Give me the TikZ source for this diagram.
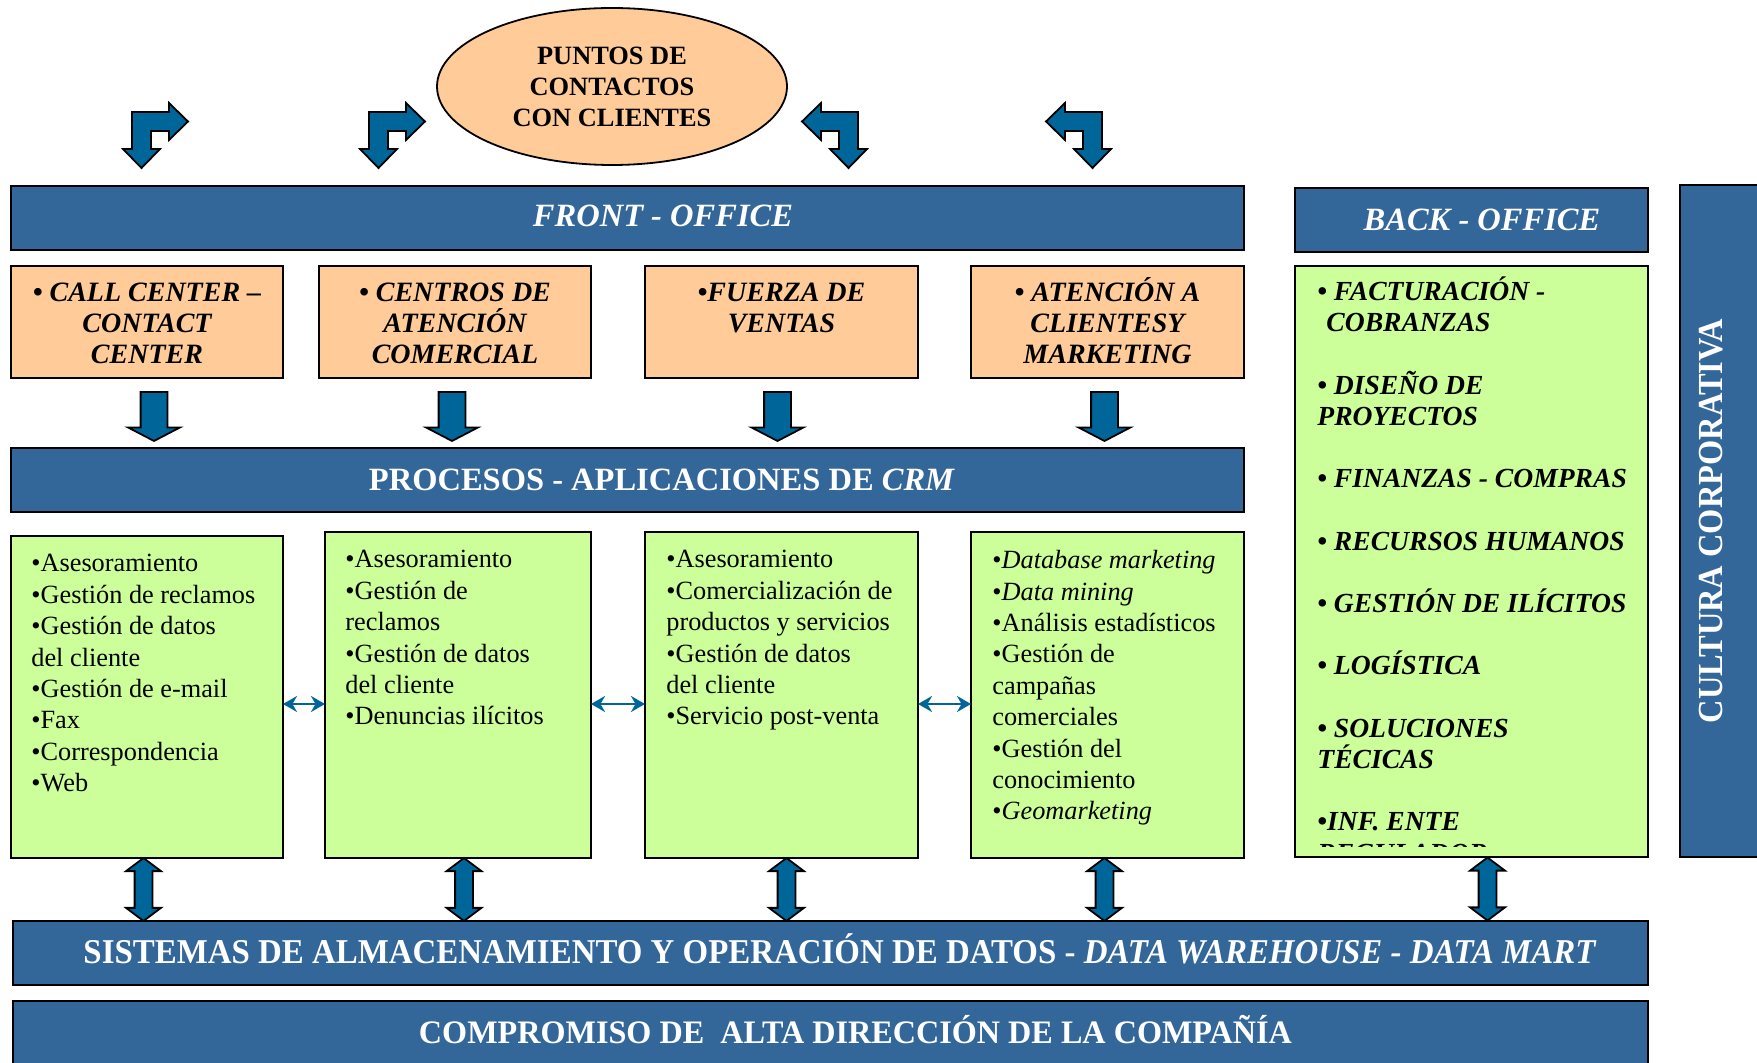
\documentclass[tikz,border=0pt]{standalone}
\usepackage{fontspec}
\setmainfont{Liberation Serif}
\usepackage{graphicx}
\usetikzlibrary{shapes.geometric,shapes.arrows,arrows.meta}
\definecolor{barblue}{RGB}{51,102,153}
\definecolor{arrowblue}{RGB}{0,102,153}
\definecolor{peach}{RGB}{255,204,153}
\definecolor{lime}{RGB}{204,255,153}
\tikzset{
    bar/.style={draw=black,line width=1.2pt,fill=barblue,inner sep=0pt,outer sep=0pt},
    peachbox/.style={draw=black,line width=0.9pt,fill=peach,inner sep=0pt,outer sep=0pt},
    limebox/.style={draw=black,line width=0.9pt,fill=lime,inner sep=0pt,outer sep=0pt},
    bartext/.style={text=white,inner sep=0pt,font=\fontsize{16.25}{19}\selectfont\bfseries},
    boxtext/.style={inner sep=0pt,align=center,font=\fontsize{14}{15.5}\selectfont\bfseries\itshape},
    listtext/.style={inner sep=0pt,align=left,font=\fontsize{13.15}{15.7}\selectfont},
    backtext/.style={inner sep=0pt,align=left,font=\fontsize{13.8}{15.6}\selectfont\bfseries\itshape},
    dnarrow/.style={single arrow,draw=black,line width=0.9pt,fill=arrowblue,rotate=-90,
        minimum height=24.5pt,minimum width=25pt,single arrow head extend=6.25pt,
        single arrow tip angle=125,inner xsep=0pt,inner ysep=6.25pt},
    dblarrow/.style={double arrow,draw=black,line width=0.9pt,fill=arrowblue,rotate=90,
        minimum height=31.5pt,minimum width=16.5pt,double arrow head extend=4.25pt,
        double arrow tip angle=106,inner xsep=0pt,inner ysep=4pt},
    bendarr/.style={draw=black,line width=0.9pt,fill=arrowblue},
    linkarrow/.style={{Stealth[length=7pt,width=8pt]}-{Stealth[length=7pt,width=8pt]},draw=arrowblue,line width=1.3pt}
}
\newcommand{\blk}[6]{
    \node[#2,anchor=north west,minimum width={(#5-#3)*0.5pt},minimum height={(#6-#4)*0.5pt}] (#1) at (#3,#4) {};
}
\newcommand{\bentarrow}[3]{
    \begin{scope}[shift={(#1,#2)},xscale=#3]
        \draw[bendarr] (0,0) -- (37,0) -- (37,-9) -- (56,9.5) -- (37,28) -- (37,19) -- (19,19)
            -- (19,37) -- (28,37) -- (9.5,56) -- (-9,37) -- (0,37) -- cycle;
    \end{scope}
}
\begin{document}
\begin{tikzpicture}[x={(0.5pt,0pt)},y={(0pt,-0.5pt)}]
    \useasboundingbox (0,0) rectangle (1757,1063);
    \clip (0,0) rectangle (1757,1063);
    \node[ellipse,draw=black,line width=0.9pt,fill=peach,minimum width=175pt,minimum height=78.5pt,
        inner sep=0pt,align=center,font=\fontsize{13.2}{15.5}\selectfont\bfseries] (pts) at (612,86.5)
        {PUNTOS DE\\CONTACTOS\\CON CLIENTES};
    \bentarrow{132}{112}{1}
    \bentarrow{369}{112}{1}
    \bentarrow{858}{112}{-1}
    \bentarrow{1102}{112}{-1}

    \blk{front}{bar}{11}{186}{1244}{250}
    \blk{back}{bar}{1295}{188}{1648}{252}
    \blk{cultura}{bar}{1680}{185}{1775}{857}
    \blk{crm}{bar}{11}{448}{1244}{512}
    \blk{dw}{bar}{13}{921}{1648}{985}
    \blk{alta}{bar}{13}{1001}{1648}{1075}
    \node[bartext] (fronttxt) at (663,216) {\itshape FRONT - OFFICE};
    \node[bartext] (backtxt) at (1482,219.6) {\itshape BACK - OFFICE};
    \node[bartext] (crmtxt) at (662,479.6) {PROCESOS - APLICACIONES DE \textit{CRM}};
    \node[bartext,anchor=base,font=\fontsize{17.4}{20}\selectfont\bfseries] (dwtxt) at (840,963.6)
        {\resizebox{756.5pt}{\height}{SISTEMAS DE ALMACENAMIENTO Y OPERACIÓN DE DATOS - \textit{DATA WAREHOUSE - DATA MART}}};
    \node[bartext,anchor=base,font=\fontsize{16.4}{20}\selectfont\bfseries] (altatxt) at (855.5,1043)
        {\resizebox{436.5pt}{\height}{COMPROMISO DE\ \ ALTA DIRECCIÓN DE LA COMPAÑÍA}};
    \node[bartext,rotate=90,font=\fontsize{17.6}{20}\selectfont\bfseries] (culttxt) at (1711,521)
        {\resizebox{202pt}{\height}{CULTURA CORPORATIVA}};

    \blk{ccc}{peachbox}{11}{266}{283}{378}
    \blk{cac}{peachbox}{319}{266}{591}{378}
    \blk{fv}{peachbox}{645}{266}{918}{378}
    \blk{acm}{peachbox}{971}{266}{1244}{378}
    \node[boxtext,anchor=north] (ccctxt) at ([yshift=-8.5pt]ccc.north) {• CALL CENTER –\\CONTACT\\CENTER};
    \node[boxtext,anchor=north] (cactxt) at ([yshift=-8.5pt]cac.north) {• CENTROS DE\\ATENCIÓN\\COMERCIAL};
    \node[boxtext,anchor=north] (fvtxt) at ([yshift=-8.5pt]fv.north) {•FUERZA DE\\VENTAS};
    \node[boxtext,anchor=north] (acmtxt) at ([yshift=-5.5pt]acm.north) {• ATENCIÓN A\\CLIENTESY\\MARKETING};

    \blk{g1}{limebox}{11}{536}{283}{858}
    \blk{g2}{limebox}{325}{532}{591}{858}
    \blk{g3}{limebox}{645}{532}{918}{858}
    \blk{g4}{limebox}{971}{532}{1244}{858}
    \blk{gb}{limebox}{1295}{266}{1648}{857}
    \node[listtext,anchor=north west] (g1txt) at ([xshift=10pt,yshift=-9pt]g1.north west)
        {•Asesoramiento\\•Gestión de reclamos\\•Gestión de datos\\del cliente\\•Gestión de e-mail\\•Fax\\•Correspondencia\\•Web};
    \node[listtext,anchor=north west] (g2txt) at ([xshift=10pt,yshift=-9pt]g2.north west)
        {•Asesoramiento\\•Gestión de\\reclamos\\•Gestión de datos\\del cliente\\•Denuncias ilícitos};
    \node[listtext,anchor=north west] (g3txt) at ([xshift=10.5pt,yshift=-9pt]g3.north west)
        {•Asesoramiento\\•Comercialización de\\productos y servicios\\•Gestión de datos\\del cliente\\•Servicio post-venta};
    \node[listtext,anchor=north west] (g4txt) at ([xshift=10.5pt,yshift=-9pt]g4.north west)
        {•\textit{Database marketing}\\•\textit{Data mining}\\•Análisis estadísticos\\•Gestión de\\campañas\\comerciales\\•Gestión del\\conocimiento\\•\textit{Geomarketing}};
    \begin{scope}
        \clip (gb.north west) rectangle ([yshift=5.5pt]gb.south east);
        \node[backtext,anchor=north west] (gbtxt) at ([xshift=11pt,yshift=-5.25pt]gb.north west)
            {• FACTURACIÓN -\\\hspace*{4.5pt}COBRANZAS\\[15.6pt]• DISEÑO DE\\PROYECTOS\\[15.6pt]• FINANZAS - COMPRAS\\[15.6pt]• RECURSOS HUMANOS\\[15.6pt]• GESTIÓN DE ILÍCITOS\\[15.6pt]• LOGÍSTICA\\[15.6pt]• SOLUCIONES\\TÉCICAS\\[15.6pt]•INF. ENTE\\REGULADOR};
    \end{scope}

    \foreach \s/\dx in {ccc/3.5,cac/-1.5,fv/-2,acm/-1.5}
        \path ([xshift=\dx pt]\s.south) -- ([xshift=\dx pt]\s.south |- crm.north) node[midway,dnarrow] (dn-\s) {};
    \foreach \s/\dx in {g1/-1.75,g2/3,g3/2.5,g4/-1.5,gb/8}
        \path ([xshift=\dx pt]\s.south) -- ([xshift=\dx pt]\s.south |- dw.north) node[midway,dblarrow] (up-\s) {};
    \coordinate (hrow) at (0,704);
    \draw[linkarrow] (g1.east |- hrow) -- (g2.west |- hrow);
    \draw[linkarrow] (g2.east |- hrow) -- (g3.west |- hrow);
    \draw[linkarrow] (g3.east |- hrow) -- (g4.west |- hrow);
\end{tikzpicture}
\end{document}
